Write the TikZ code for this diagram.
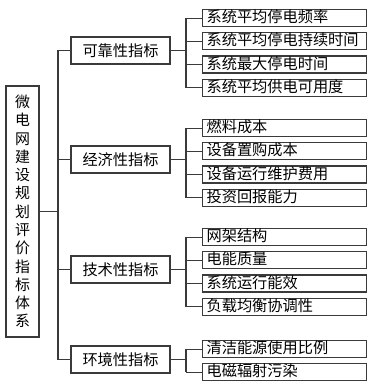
\documentclass[tikz,border=0pt]{standalone}
\usepackage{fontspec}
\newfontfamily\cjk{Noto Sans CJK SC}
\usetikzlibrary{positioning}
\definecolor{MGInk}{HTML}{3A3A3A}
\tikzset{
  mgroot/.style={draw=MGInk, line width=0.9pt, align=center,
    minimum width=24.75pt, minimum height=188.25pt, inner sep=0pt,
    font=\cjk\fontsize{11.2}{13.7}\selectfont},
  mgcat/.style={draw=MGInk, line width=0.9pt, minimum width=74.25pt,
    minimum height=20.25pt, inner sep=0pt, font=\cjk\fontsize{11.4}{13}\selectfont},
  mgitem/.style={draw=MGInk, line width=0.9pt, minimum width=123pt,
    minimum height=12.75pt, inner ysep=0pt, inner xsep=3pt, text width=117pt,
    align=left, text height=9pt, text depth=2pt,
    font=\cjk\fontsize{11.4}{13}\selectfont},
  mgline/.style={draw=MGInk, line width=0.8pt}
}
\begin{document}
\begin{tikzpicture}[x=0.75pt, y=-0.75pt, node distance=3.75pt]
  \useasboundingbox (0,0) rectangle (382,392);

  \node[mgroot] (root) at (22.5,211.5)
    {微\\电\\网\\建\\设\\规\\划\\评\\价\\指\\标\\体\\系};

  \node[mgcat] (rel) at (120.5,50.5) {可靠性指标};
  \node[mgcat] (eco) at (120.5,159.5) {经济性指标};
  \node[mgcat] (tec) at (120.5,269.5) {技术性指标};
  \node[mgcat] (env) at (120.5,359.5) {环境性指标};

  % reliability
  \node[mgitem, anchor=north west] (rel1) at (202,9) {系统平均停电频率};
  \node[mgitem, below=of rel1] (rel2) {系统平均停电持续时间};
  \node[mgitem, below=of rel2] (rel3) {系统最大停电时间};
  \node[mgitem, below=of rel3] (rel4) {系统平均供电可用度};

  % economy
  \node[mgitem, anchor=north west] (eco1) at (202,119) {燃料成本};
  \node[mgitem, below=of eco1] (eco2) {设备置购成本};
  \node[mgitem, below=of eco2] (eco3) {设备运行维护费用};
  \node[mgitem, below=of eco3] (eco4) {投资回报能力};

  % technology
  \node[mgitem, anchor=north west] (tec1) at (202,228) {网架结构};
  \node[mgitem, below=of tec1] (tec2) {电能质量};
  \node[mgitem, below=of tec2] (tec3) {系统运行能效};
  \node[mgitem, below=of tec3] (tec4) {负载均衡协调性};

  % environment
  \node[mgitem, anchor=north west] (env1) at (202,340) {清洁能源使用比例};
  \node[mgitem, below=of env1] (env2) {电磁辐射污染};

  % trunk
  \coordinate (tk) at (58,0);
  \draw[mgline] (root.east) -- (root.east -| tk);
  \draw[mgline] (tk |- rel.west) -- (tk |- env.west);
  \foreach \c in {rel,eco,tec,env}
    \draw[mgline] (tk |- \c.west) -- (\c.west);

  % branches
  \coordinate (br) at (186,0);
  \foreach \c/\last in {rel/4,eco/4,tec/4,env/2} {
    \draw[mgline] (\c.east) -- (\c.east -| br);
    \draw[mgline] (br |- \c1.west) -- (br |- \c\last.west);
    \foreach \i in {1,...,\last}
      \draw[mgline] (br |- \c\i.west) -- (\c\i.west);
  }
\end{tikzpicture}
\end{document}
